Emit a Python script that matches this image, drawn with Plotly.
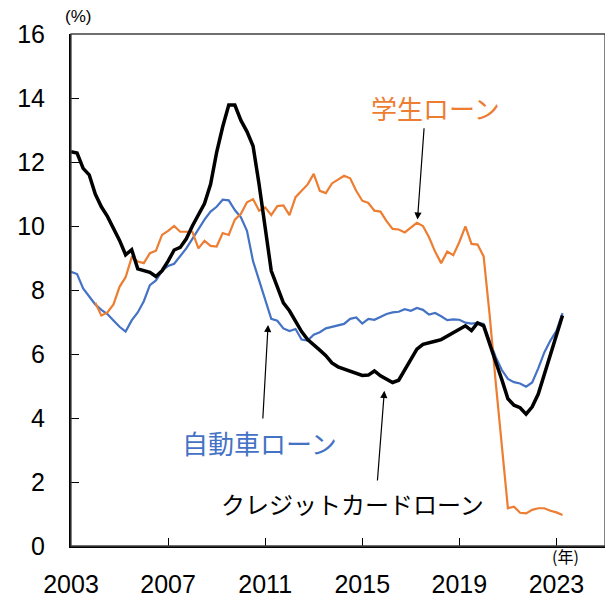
import plotly.graph_objects as go

# Quarterly data, 2003Q1 .. 2023Q2
start_year = 2003
n_quarters = 82
quarters = [start_year + i / 4 for i in range(n_quarters)]

credit_card = [
    12.32, 12.28, 11.80, 11.60, 11.00, 10.60, 10.30, 9.95,
    9.55, 9.10, 9.26, 8.66, 8.60, 8.55, 8.42, 8.60,
    8.90, 9.25, 9.33, 9.60, 10.00, 10.35, 10.70, 11.30,
    12.30, 13.10, 13.78, 13.78, 13.30, 12.95, 12.50, 11.30,
    10.00, 8.60, 8.10, 7.60, 7.35, 7.00, 6.70, 6.45,
    6.27, 6.12, 5.95, 5.72, 5.60, 5.53, 5.47, 5.40,
    5.33, 5.34, 5.47, 5.32, 5.22, 5.11, 5.18, 5.50,
    5.85, 6.15, 6.30, 6.36, 6.40, 6.45, 6.55, 6.68,
    6.76, 6.88, 6.73, 6.97, 6.88, 6.35, 5.75, 5.20,
    4.60, 4.40, 4.32, 4.12, 4.35, 4.75, 5.35, 5.95,
    6.55, 7.20,
]

auto_loan = [
    8.57, 8.50, 8.05, 7.80, 7.55, 7.38, 7.25, 7.05,
    6.85, 6.70, 7.05, 7.30, 7.65, 8.15, 8.30, 8.60,
    8.75, 8.82, 9.05, 9.30, 9.60, 9.90, 10.20, 10.45,
    10.60, 10.82, 10.80, 10.50, 10.27, 9.85, 8.90, 8.30,
    7.70, 7.10, 7.04, 6.80, 6.72, 6.78, 6.45, 6.42,
    6.60, 6.68, 6.80, 6.84, 6.88, 6.94, 7.10, 7.14,
    6.95, 7.10, 7.07, 7.15, 7.25, 7.30, 7.32, 7.40,
    7.35, 7.44, 7.38, 7.23, 7.28, 7.18, 7.06, 7.08,
    7.07, 6.98, 6.95, 6.97, 6.94, 6.40, 5.90, 5.50,
    5.22, 5.12, 5.08, 4.98, 5.11, 5.55, 6.05, 6.42,
    6.72, 7.28,
]

student_loan = [
    None, None, None, None, 7.60, 7.20, 7.30, 7.55,
    8.10, 8.40, 9.02, 8.89, 8.84, 9.15, 9.23, 9.72,
    9.85, 10.00, 9.82, 9.83, 9.82, 9.30, 9.54, 9.38,
    9.36, 9.78, 9.72, 10.20, 10.38, 10.74, 10.84, 10.48,
    10.58, 10.34, 10.62, 10.64, 10.34, 10.90, 11.10, 11.30,
    11.63, 11.10, 11.03, 11.33, 11.45, 11.57, 11.49, 11.10,
    10.79, 10.72, 10.48, 10.45, 10.15, 9.91, 9.89, 9.80,
    9.95, 10.10, 10.00, 9.65, 9.20, 8.84, 9.20, 9.09,
    9.50, 9.99, 9.44, 9.42, 9.05, 7.20, 5.10, 3.10,
    1.18, 1.23, 1.04, 1.02, 1.13, 1.18, 1.18, 1.10,
    1.05, 0.97,
]

y_ticks = [0, 2, 4, 6, 8, 10, 12, 14, 16]
x_ticks = [2003, 2007, 2011, 2015, 2019, 2023]

BLUE = "#4472C4"
ORANGE = "#ED7D31"
JP_FONT = "Noto Sans CJK JP"
NUM_FONT = "Liberation Sans"

fig = go.Figure()
fig.add_trace(go.Scatter(x=quarters, y=auto_loan, mode="lines",
                         line=dict(color=BLUE, width=2.2), name="自動車ローン"))
fig.add_trace(go.Scatter(x=quarters, y=student_loan, mode="lines",
                         line=dict(color=ORANGE, width=2.2), name="学生ローン"))
fig.add_trace(go.Scatter(x=quarters, y=credit_card, mode="lines",
                         line=dict(color="black", width=3.5), name="クレジットカードローン"))

# The page body adds an 8px offset; margins compensate for it.
fig.update_layout(
    width=613, height=597,
    margin=dict(l=63, r=16, t=26, b=59),
    plot_bgcolor="white", paper_bgcolor="white",
    showlegend=False,
    font=dict(family=NUM_FONT, size=25, color="black"),
)
fig.update_xaxes(
    range=[2003, 2025], tickmode="array", tickvals=x_ticks,
    ticktext=[str(v) for v in x_ticks],
    ticks="inside", ticklen=8, tickcolor="black", tickwidth=1,
    showline=True, linecolor="black", linewidth=2, showgrid=False,
    zeroline=False, ticklabelstandoff=15, automargin=False,
)
fig.update_yaxes(
    range=[0, 16], tickmode="array", tickvals=y_ticks,
    ticks="inside", ticklen=8, tickcolor="black", tickwidth=1,
    showline=True, linecolor="black", linewidth=2, showgrid=False,
    zeroline=False, ticklabelstandoff=19, automargin=False,
)
# Frame (top and right border)
fig.add_shape(type="rect", xref="paper", yref="paper", x0=0, y0=0, x1=1, y1=1,
              line=dict(color="#404040", width=1.3), layer="above")

# Series labels
fig.add_annotation(x=2018.0, y=13.7, text="学生ローン", showarrow=False,
                   font=dict(family=JP_FONT, size=26, color=ORANGE))
fig.add_annotation(x=2010.77, y=3.22, text="自動車ローン", showarrow=False,
                   font=dict(family=JP_FONT, size=26, color=BLUE))
fig.add_annotation(x=2014.6, y=1.34, text="クレジットカードローン", showarrow=False,
                   font=dict(family=JP_FONT, size=24, color="black"))

# Arrows
arrows = [
    (2017.275, 10.2, 2017.55, 13.1),
    (2011.12, 6.91, 2010.9, 3.94),
    (2015.91, 4.85, 2015.62, 2.0),
]
for hx, hy, tx, ty in arrows:
    fig.add_annotation(x=hx, y=hy, ax=tx, ay=ty, xref="x", yref="y",
                       axref="x", ayref="y", text="", showarrow=True,
                       arrowhead=2, arrowsize=1.2, arrowwidth=1.2, arrowcolor="black")

# Unit labels
fig.add_annotation(xref="paper", yref="paper", x=0.0137, y=1.034, text="(%)",
                   xanchor="center", yanchor="middle",
                   showarrow=False, font=dict(family=NUM_FONT, size=17))
fig.add_annotation(xref="paper", yref="paper", x=0.926, y=-0.019, text="(年)",
                   xanchor="center", yanchor="middle",
                   showarrow=False, font=dict(family=JP_FONT, size=16))

fig.write_html("out.html")
